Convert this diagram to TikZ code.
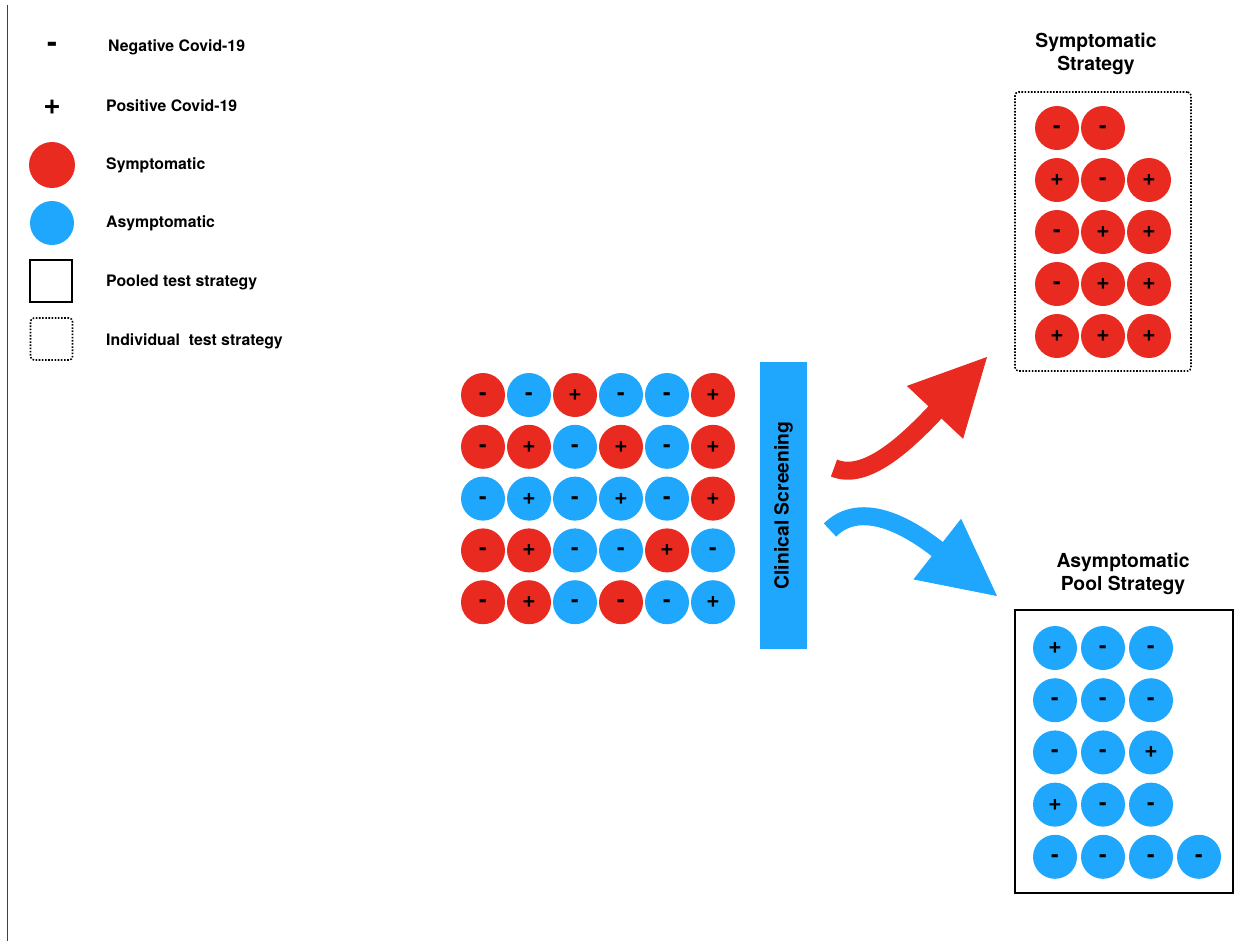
\documentclass[tikz,border=0pt]{standalone}
\usepackage{fontspec}
\setmainfont{TeX Gyre Heros}
\usetikzlibrary{arrows.meta,positioning}
\definecolor{symRed}{RGB}{233,42,32}
\definecolor{asyBlue}{RGB}{30,167,253}
\colorlet{R}{symRed}
\colorlet{B}{asyBlue}

\begin{document}
\begin{tikzpicture}[
    x=0.02cm, y=-0.02cm,
    person/.style={
        circle,
        minimum size=0.88cm,
        inner sep=0pt,
        text height=0.62em,
        text depth=0pt,
        font=\bfseries\fontsize{13}{15}\selectfont
    },
    keyText/.style={anchor=west, font=\bfseries\fontsize{9}{11}\selectfont},
    keySign/.style={font=\bfseries\fontsize{17}{19}\selectfont},
    title/.style={align=center, font=\bfseries\fontsize{11}{13.5}\selectfont},
    poolFrame/.style={draw, line width=1.1pt},
    indFrame/.style={draw, line width=0.9pt, dash pattern=on 0.9pt off 0.9pt, rounded corners=2pt},
    shaft/.style={line width=0.36cm},
    head/.style={line width=0.5pt, -{Triangle[length=1.52cm, width=1.54cm]}}
]
    \useasboundingbox (0,0) rectangle (1253,941);
    \draw[black!75, line width=0.6pt] (7.5,5) -- (7.5,941);

    % legend
    \node[keySign] (negSign) at (52,47) {-};
    \node[keySign] (posSign) at (52,107) {+};
    \node[person, fill=symRed, minimum size=0.92cm] (symDot) at (52,165) {};
    \node[person, fill=asyBlue] (asyDot) at (52,223) {};
    \node[poolFrame, minimum size=0.84cm] (poolKey) at (51,281) {};
    \node[indFrame, minimum size=0.84cm] (indKey) at (51.5,339) {};
    \node[keyText] (negText) at (102,47) {Negative Covid-19};
    \node[keyText] (posText) at (100,106) {Positive Covid-19};
    \node[keyText] (symText) at (100,165) {Symptomatic};
    \node[keyText] (asyText) at (100,223) {Asymptomatic};
    \node[keyText] (poolText) at (100,282) {Pooled test strategy};
    \node[keyText] (indText) at (100,341) {Individual\ \ test strategy};

    % population before screening
    \foreach \row [count=\i] in {
        {R/-,B/-,R/+,B/-,B/-,R/+},
        {R/-,R/+,B/-,R/+,B/-,R/+},
        {B/-,B/+,B/-,B/+,B/-,R/+},
        {R/-,R/+,B/-,B/-,R/+,B/-},
        {R/-,R/+,B/-,R/-,B/-,B/+}} {
        \foreach \col/\sign [count=\j] in \row {
            \node[person, fill=\col] (mix-\i-\j) at ({483+46*(\j-1)}, {395+51.8*(\i-1)}) {\sign};
        }
    }

    \node[fill=asyBlue, rotate=90, minimum width=5.74cm, minimum height=0.94cm,
        font=\bfseries\fontsize{11}{13}\selectfont] (screen) at (783.5,505.5) {Clinical Screening};

    % symptomatic group
    \node[title] (symTitle) at (1096,54) {Symptomatic\\Strategy};
    \node[indFrame, minimum width=3.52cm, minimum height=5.58cm] (symBox) at (1103,231.5) {};
    \foreach \row [count=\i] in {{-,-},{+,-,+},{-,+,+},{-,+,+},{+,+,+}} {
        \foreach \sign [count=\j] in \row {
            \node[person, fill=symRed] (sym-\i-\j) at ({1057+46*(\j-1)}, {128+52*(\i-1)}) {\sign};
        }
    }

    % asymptomatic group
    \node[title] (poolTitle) at (1123,574) {Asymptomatic\\Pool Strategy};
    \node[poolFrame, minimum width=4.36cm, minimum height=5.66cm] (poolBox) at (1124,751.5) {};
    \foreach \row [count=\i] in {{+,-,-},{-,-,-},{-,-,+},{+,-,-},{-,-,-,-}} {
        \foreach \sign [count=\j] in \row {
            \node[person, fill=asyBlue] (pool-\i-\j) at ({1055+48*(\j-1)}, {648+52.2*(\i-1)}) {\sign};
        }
    }

    % screening outcome
    \coordinate (redTail) at (834,468);
    \coordinate (redBase) at (940,407);
    \coordinate (redTip) at (987,357);
    \coordinate (blueTail) at (830,530);
    \coordinate (blueBase) at (941,552);
    \coordinate (blueTip) at (997,596);
    \draw[shaft, symRed] (redTail) .. controls (865,481) and (905,445) .. (redBase);
    \draw[head, symRed] (redBase) -- (redTip);
    \draw[shaft, asyBlue] (blueTail) .. controls (855,505) and (895,515) .. (blueBase);
    \draw[head, asyBlue] (blueBase) -- (blueTip);
\end{tikzpicture}
\end{document}
